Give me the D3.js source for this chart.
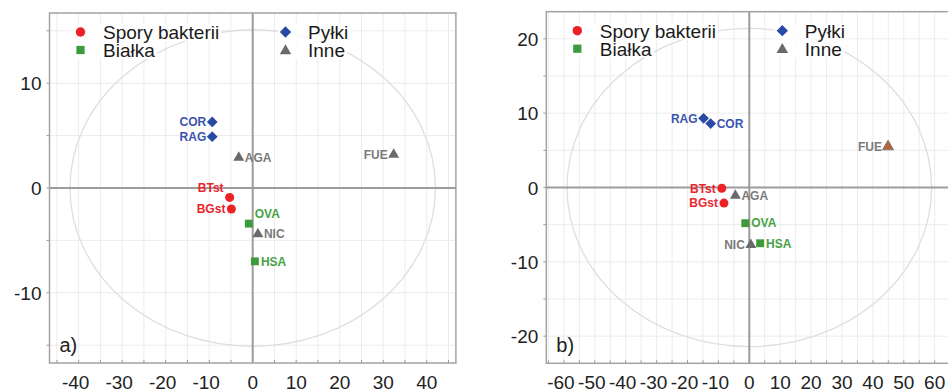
<!DOCTYPE html>
<html>
<head>
<meta charset="utf-8">
<title>PCA</title>
<script src="https://cdnjs.cloudflare.com/ajax/libs/d3/7.8.5/d3.min.js"></script>
<style>
body { margin: 0; background: #fff; }
svg { display: block; font-family: "Liberation Sans", Arial, sans-serif; }
.grid line { stroke: #ececec; stroke-width: 1; }
.frame { fill: none; stroke: #a3a3a3; stroke-width: 1.5; }
.zero { stroke: #9c9c9c; stroke-width: 2; }
.ell { fill: none; stroke: #dedede; stroke-width: 1.3; }
.tick { font-size: 19px; fill: #222; }
.lab { font-size: 12px; font-weight: bold; }
</style>
</head>
<body>
<script>
// samples and groups
var names  = ["BTst", "BGst", "OVA", "HSA", "COR", "RAG", "AGA", "NIC", "FUE"];
var groups = [0, 0, 1, 1, 2, 2, 3, 3, 3];
var groupNames = ["Spory bakterii", "Białka", "Pyłki", "Inne"];

// panel a) scores
var pc1A = [-5.3, -4.9, -0.9, 0.5, -9.3, -9.3, -3.2, 1.2, 32.4];
var pc2A = [-0.9, -2.0, -3.4, -7.0, 6.3, 4.9, 2.9, -4.4, 3.2];
// panel b) scores
var pc1B = [-8.9, -8.2, -1.3, 3.5, -12.5, -14.8, -4.5, 0.5, 44.9];
var pc2B = [-0.1, -2.1, -4.8, -7.5, 8.6, 9.3, -1.1, -7.7, 5.5];

var ticksA = [-40, -30, -20, -10, 0, 10, 20, 30, 40];
var yTicksA = [-10, 0, 10];
var ticksB = [-60, -50, -40, -30, -20, -10, 0, 10, 20, 30, 40, 50, 60];
var yTicksB = [-20, -10, 0, 10, 20];

var colors = ["#ec2227", "#3d9b3d", "#2a48a6", "#6a6a6a"];
var textColors = ["#e8262c", "#47a247", "#3b55ae", "#7a7a7a"];
// diamond = square turned 45 degrees
var shapes = [d3.symbolCircle, d3.symbolSquare, d3.symbolSquare, d3.symbolTriangle];
var turns = [0, 0, 45, 0];
var sizes = [64, 62, 58, 52];

var svg = d3.select("body").append("svg")
  .attr("width", 948)
  .attr("height", 391);

var panels = [
  { x0: 49.5, x1: 455.9, y0: 13, y1: 363, xdom: 46.7, ydom: 16.7,
    px: pc1A, py: pc2A, xt: ticksA, yt: yTicksA, ell: [42, 15.1], tag: "a)",
    sides: ["ul", "l", "ur", "r", "l", "l", "r", "r", "l"] },
  { x0: 546.3, x1: 952.3, y0: 11.7, y1: 363.3, xdom: 65.7, ydom: 23.65,
    px: pc1B, py: pc2B, xt: ticksB, yt: yTicksB, ell: [59, 21.4], tag: "b)",
    sides: ["l", "l", "r", "r", "r", "l", "r", "l", "l"] }
];

function marker(g, gr, cx, cy, k) {
  return g.append("path")
    .attr("transform", "translate(" + cx + "," + cy + ") rotate(" + turns[gr] + ")")
    .attr("d", d3.symbol().type(shapes[gr]).size(sizes[gr] * k)())
    .attr("fill", colors[gr]);
}

panels.forEach(function(p, pi) {
  var x = d3.scaleLinear().domain([-p.xdom, p.xdom]).range([p.x0, p.x1]);
  var y = d3.scaleLinear().domain([-p.ydom, p.ydom]).range([p.y1, p.y0]);
  var g = svg.append("g");

  g.append("clipPath").attr("id", "clip" + pi)
    .append("rect")
    .attr("x", p.x0).attr("y", p.y0)
    .attr("width", p.x1 - p.x0).attr("height", p.y1 - p.y0);

  // grid every 5 units
  var xg = d3.range(Math.ceil(-p.xdom / 5) * 5, p.xdom, 5);
  var yg = d3.range(Math.ceil(-p.ydom / 5) * 5, p.ydom, 5);
  var grid = g.append("g").attr("class", "grid");
  grid.selectAll(".gx").data(xg).enter().append("line")
    .attr("x1", d => x(d)).attr("x2", d => x(d))
    .attr("y1", p.y0).attr("y2", p.y1);
  grid.selectAll(".gy").data(yg).enter().append("line")
    .attr("y1", d => y(d)).attr("y2", d => y(d))
    .attr("x1", p.x0).attr("x2", p.x1);

  // small ticks
  g.selectAll(".tx").data(xg).enter().append("line")
    .attr("x1", d => x(d)).attr("x2", d => x(d))
    .attr("y1", p.y1 - 3).attr("y2", p.y1)
    .attr("stroke", "#999");
  g.selectAll(".ty").data(yg).enter().append("line")
    .attr("y1", d => y(d)).attr("y2", d => y(d))
    .attr("x1", p.x0 - 3).attr("x2", p.x0)
    .attr("stroke", "#999");

  g.append("ellipse").attr("class", "ell")
    .attr("clip-path", "url(#clip" + pi + ")")
    .attr("cx", x(0)).attr("cy", y(0))
    .attr("rx", x(p.ell[0]) - x(0))
    .attr("ry", y(0) - y(p.ell[1]));

  // legend (white boxes behind entries)
  var leg = [[31, 19], [31, 37], [236, 19], [236, 37]];
  groupNames.forEach(function(n, i) {
    var lx = p.x0 + leg[i][0], ly = p.y0 + leg[i][1];
    var t = g.append("text")
      .attr("x", lx + 22.5).attr("y", ly + 7)
      .attr("font-size", 19).attr("fill", "#1a1a1a")
      .text(n);
    var bb = t.node().getBBox();
    g.insert("rect", "text")
      .attr("x", lx - 8).attr("y", bb.y + 2)
      .attr("width", bb.x + bb.width - lx + 10).attr("height", bb.height - 4)
      .attr("fill", "#fff").attr("opacity", 0.85);
    marker(g, i, lx, ly + (i == 3 ? 1 : 0), 1.1);
  });

  // zero lines + frame
  g.append("line").attr("class", "zero")
    .attr("x1", x(0)).attr("x2", x(0)).attr("y1", p.y0).attr("y2", p.y1);
  g.append("line").attr("class", "zero")
    .attr("y1", y(0)).attr("y2", y(0)).attr("x1", p.x0).attr("x2", p.x1);
  g.append("rect").attr("class", "frame")
    .attr("x", p.x0).attr("y", p.y0)
    .attr("width", p.x1 - p.x0).attr("height", p.y1 - p.y0);

  // tick labels
  g.selectAll(".xl").data(p.xt).enter().append("text")
    .attr("class", "tick")
    .attr("x", d => x(d) - (d < 0 ? 3 : 0))
    .attr("y", 388.5)
    .attr("text-anchor", "middle")
    .text(d => d);
  g.selectAll(".yl").data(p.yt).enter().append("text")
    .attr("class", "tick")
    .attr("x", p.x0 - 8)
    .attr("y", d => y(d) + 7)
    .attr("text-anchor", "end")
    .text(d => d);

  g.append("text")
    .attr("x", p.x0 + 10).attr("y", p.y1 - 11)
    .attr("font-size", 20).attr("fill", "#222")
    .text(p.tag);

  // points
  names.forEach(function(n, i) {
    var cx = x(p.px[i]), cy = y(p.py[i]), gr = groups[i];
    var m = marker(g, gr, cx, cy, 1);
    if (pi == 1 && n == "FUE") m.attr("fill", "#b8623e").attr("stroke", "#777");
    var s = p.sides[i];
    var left = s.indexOf("l") >= 0;
    var up = s.indexOf("u") >= 0 ? -10 : 0;
    g.append("text").attr("class", "lab")
      .attr("x", cx + (left ? -6 : 6))
      .attr("y", cy + up + 4.3)
      .attr("text-anchor", left ? "end" : "start")
      .attr("fill", textColors[gr])
      .text(n);
  });
});
</script>
</body>
</html>
